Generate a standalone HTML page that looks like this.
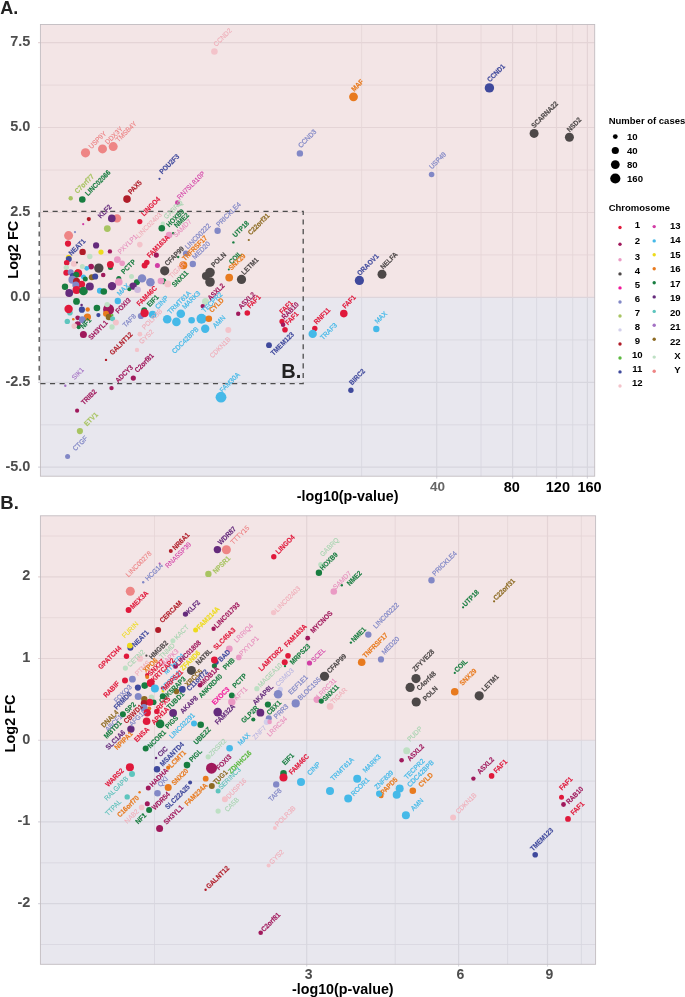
<!DOCTYPE html><html><head><meta charset="utf-8"><title>Figure</title>
<style>html,body{margin:0;padding:0;background:#fff}svg{display:block}text{font-family:"Liberation Sans",sans-serif}</style></head><body>
<svg width="685" height="997" viewBox="0 0 685 997">
<rect width="685" height="997" fill="#fff"/>
<defs><filter id="nf" x="0" y="0" width="685" height="997" filterUnits="userSpaceOnUse" color-interpolation-filters="sRGB"><feOffset dx="0" dy="0"/></filter></defs>
<g filter="url(#nf)">
<rect x="40.4" y="24.5" width="554.3000000000001" height="272.9" fill="#F3E5E6"/>
<rect x="40.4" y="297.4" width="554.3000000000001" height="178.8" fill="#E8E7EE"/>
<line x1="38.1" x2="594.7" y1="42.6" y2="42.6" stroke="#E4D4D6" stroke-width="1.2"/>
<line x1="40.4" x2="594.7" y1="85.1" y2="85.1" stroke="#E4D4D6" stroke-width="0.8"/>
<line x1="38.1" x2="594.7" y1="127.5" y2="127.5" stroke="#E4D4D6" stroke-width="1.2"/>
<line x1="40.4" x2="594.7" y1="170.0" y2="170.0" stroke="#E4D4D6" stroke-width="0.8"/>
<line x1="38.1" x2="594.7" y1="212.5" y2="212.5" stroke="#E4D4D6" stroke-width="1.2"/>
<line x1="40.4" x2="594.7" y1="254.9" y2="254.9" stroke="#E4D4D6" stroke-width="0.8"/>
<line x1="40.4" x2="594.7" y1="339.9" y2="339.9" stroke="#D7D6DE" stroke-width="0.8"/>
<line x1="38.1" x2="594.7" y1="382.3" y2="382.3" stroke="#D7D6DE" stroke-width="1.2"/>
<line x1="40.4" x2="594.7" y1="424.8" y2="424.8" stroke="#D7D6DE" stroke-width="0.8"/>
<line x1="38.1" x2="594.7" y1="467.2" y2="467.2" stroke="#D7D6DE" stroke-width="1.2"/>
<line x1="361.6" x2="361.6" y1="24.5" y2="297.4" stroke="#E4D4D6" stroke-width="0.8"/>
<line x1="361.6" x2="361.6" y1="297.4" y2="476.2" stroke="#D7D6DE" stroke-width="0.8"/>
<line x1="436.7" x2="436.7" y1="24.5" y2="297.4" stroke="#E4D4D6" stroke-width="1.2"/>
<line x1="436.7" x2="436.7" y1="297.4" y2="478.5" stroke="#D7D6DE" stroke-width="1.2"/>
<line x1="481" x2="481" y1="24.5" y2="297.4" stroke="#E4D4D6" stroke-width="0.8"/>
<line x1="481" x2="481" y1="297.4" y2="476.2" stroke="#D7D6DE" stroke-width="0.8"/>
<line x1="512.6" x2="512.6" y1="24.5" y2="297.4" stroke="#E4D4D6" stroke-width="1.2"/>
<line x1="512.6" x2="512.6" y1="297.4" y2="478.5" stroke="#D7D6DE" stroke-width="1.2"/>
<line x1="536.6" x2="536.6" y1="24.5" y2="297.4" stroke="#E4D4D6" stroke-width="0.8"/>
<line x1="536.6" x2="536.6" y1="297.4" y2="476.2" stroke="#D7D6DE" stroke-width="0.8"/>
<line x1="556.5" x2="556.5" y1="24.5" y2="297.4" stroke="#E4D4D6" stroke-width="1.2"/>
<line x1="556.5" x2="556.5" y1="297.4" y2="478.5" stroke="#D7D6DE" stroke-width="1.2"/>
<line x1="572.7" x2="572.7" y1="24.5" y2="297.4" stroke="#E4D4D6" stroke-width="0.8"/>
<line x1="572.7" x2="572.7" y1="297.4" y2="476.2" stroke="#D7D6DE" stroke-width="0.8"/>
<line x1="587.4" x2="587.4" y1="24.5" y2="297.4" stroke="#E4D4D6" stroke-width="1.2"/>
<line x1="587.4" x2="587.4" y1="297.4" y2="478.5" stroke="#D7D6DE" stroke-width="1.2"/>
<line x1="38.1" x2="594.7" y1="297.4" y2="297.4" stroke="#DDD5DB" stroke-width="1.1"/>
<rect x="40.4" y="24.5" width="554.3000000000001" height="451.7" fill="none" stroke="#C2BCC1" stroke-width="0.9"/>
<rect x="40.4" y="515.8" width="555.2" height="224.4000000000001" fill="#F3E5E6"/>
<rect x="40.4" y="740.2" width="555.2" height="224.0999999999999" fill="#E8E7EE"/>
<line x1="40.4" x2="595.6" y1="536.0" y2="536.0" stroke="#E4D4D6" stroke-width="0.8"/>
<line x1="38.1" x2="595.6" y1="576.8" y2="576.8" stroke="#E4D4D6" stroke-width="1.2"/>
<line x1="40.4" x2="595.6" y1="617.7" y2="617.7" stroke="#E4D4D6" stroke-width="0.8"/>
<line x1="38.1" x2="595.6" y1="658.5" y2="658.5" stroke="#E4D4D6" stroke-width="1.2"/>
<line x1="40.4" x2="595.6" y1="699.4" y2="699.4" stroke="#E4D4D6" stroke-width="0.8"/>
<line x1="40.4" x2="595.6" y1="781.1" y2="781.1" stroke="#D7D6DE" stroke-width="0.8"/>
<line x1="38.1" x2="595.6" y1="821.9" y2="821.9" stroke="#D7D6DE" stroke-width="1.2"/>
<line x1="40.4" x2="595.6" y1="862.8" y2="862.8" stroke="#D7D6DE" stroke-width="0.8"/>
<line x1="38.1" x2="595.6" y1="903.6" y2="903.6" stroke="#D7D6DE" stroke-width="1.2"/>
<line x1="40.4" x2="595.6" y1="944.5" y2="944.5" stroke="#D7D6DE" stroke-width="0.8"/>
<line x1="154.5" x2="154.5" y1="515.8" y2="740.2" stroke="#E4D4D6" stroke-width="0.8"/>
<line x1="154.5" x2="154.5" y1="740.2" y2="964.3" stroke="#D7D6DE" stroke-width="0.8"/>
<line x1="306.7" x2="306.7" y1="515.8" y2="740.2" stroke="#E4D4D6" stroke-width="1.2"/>
<line x1="306.7" x2="306.7" y1="740.2" y2="966.5999999999999" stroke="#D7D6DE" stroke-width="1.2"/>
<line x1="395.2" x2="395.2" y1="515.8" y2="740.2" stroke="#E4D4D6" stroke-width="0.8"/>
<line x1="395.2" x2="395.2" y1="740.2" y2="964.3" stroke="#D7D6DE" stroke-width="0.8"/>
<line x1="458.6" x2="458.6" y1="515.8" y2="740.2" stroke="#E4D4D6" stroke-width="1.2"/>
<line x1="458.6" x2="458.6" y1="740.2" y2="966.5999999999999" stroke="#D7D6DE" stroke-width="1.2"/>
<line x1="507.6" x2="507.6" y1="515.8" y2="740.2" stroke="#E4D4D6" stroke-width="0.8"/>
<line x1="507.6" x2="507.6" y1="740.2" y2="964.3" stroke="#D7D6DE" stroke-width="0.8"/>
<line x1="547.5" x2="547.5" y1="515.8" y2="740.2" stroke="#E4D4D6" stroke-width="1.2"/>
<line x1="547.5" x2="547.5" y1="740.2" y2="966.5999999999999" stroke="#D7D6DE" stroke-width="1.2"/>
<line x1="581.4" x2="581.4" y1="515.8" y2="740.2" stroke="#E4D4D6" stroke-width="0.8"/>
<line x1="581.4" x2="581.4" y1="740.2" y2="964.3" stroke="#D7D6DE" stroke-width="0.8"/>
<line x1="38.1" x2="595.6" y1="740.2" y2="740.2" stroke="#DDD5DB" stroke-width="1.1"/>
<rect x="40.4" y="515.8" width="555.2" height="448.5" fill="none" stroke="#C2BCC1" stroke-width="0.9"/>
<path d="M39.2 211.3 H303.2 V383.6 H39.2 Z" fill="none" stroke="#4d4d4d" stroke-width="1.3" stroke-dasharray="5.1 4.486" stroke-dashoffset="5.786"/>
<circle cx="70.7" cy="198.2" r="2.2" fill="#A8C462"/>
<circle cx="82.3" cy="199.5" r="3.3" fill="#187D40"/>
<circle cx="127" cy="199.1" r="3.8" fill="#B01C28"/>
<circle cx="88.8" cy="219.1" r="2.1" fill="#B01C28"/>
<circle cx="83.2" cy="224.2" r="1.1" fill="#D23DA5"/>
<circle cx="75" cy="232.1" r="1.1" fill="#8288C6"/>
<circle cx="68.6" cy="235.6" r="4.5" fill="#EE8585"/>
<circle cx="68" cy="243.6" r="3.1" fill="#E0193B"/>
<circle cx="117" cy="218.4" r="4.2" fill="#EE8585"/>
<circle cx="111.8" cy="218.4" r="3.8" fill="#652B7C"/>
<circle cx="107.3" cy="228.6" r="3.4" fill="#A8C462"/>
<circle cx="139.8" cy="221.6" r="2.6" fill="#E0193B"/>
<circle cx="96.1" cy="245.4" r="3.1" fill="#652B7C"/>
<circle cx="82.6" cy="251.9" r="3.2" fill="#B01C28"/>
<circle cx="101" cy="252.1" r="2.6" fill="#EDDB1C"/>
<circle cx="109.9" cy="251.4" r="2.2" fill="#A0195C"/>
<circle cx="89.8" cy="256.5" r="2.7" fill="#BEE0C4"/>
<circle cx="139.8" cy="244.6" r="2.8" fill="#F3C3CA"/>
<circle cx="68.6" cy="257.5" r="2.8" fill="#EDDB1C"/>
<circle cx="68.8" cy="258.9" r="3" fill="#3F499C"/>
<circle cx="117.4" cy="259.6" r="3.4" fill="#EA9AC4"/>
<circle cx="122.2" cy="263.2" r="2.8" fill="#EA9AC4"/>
<circle cx="66.7" cy="262.8" r="2.8" fill="#E0193B"/>
<circle cx="73.9" cy="263.7" r="3" fill="#F3C3CA"/>
<circle cx="77" cy="262.6" r="1" fill="#4D4848"/>
<circle cx="110.4" cy="267.4" r="2.5" fill="#187D40"/>
<circle cx="110.4" cy="264.5" r="3.5" fill="#E0193B"/>
<circle cx="98.8" cy="268.1" r="4.7" fill="#4D4848"/>
<circle cx="91.1" cy="266.6" r="2.9" fill="#A0195C"/>
<circle cx="86.7" cy="268.3" r="2.4" fill="#45B9E8"/>
<circle cx="82.3" cy="266.4" r="2.5" fill="#BEE0C4"/>
<circle cx="66.3" cy="267.6" r="2.7" fill="#BEE0C4"/>
<circle cx="66.3" cy="272.8" r="3" fill="#E0193B"/>
<circle cx="70.7" cy="272.2" r="3" fill="#8288C6"/>
<circle cx="77.7" cy="271" r="2" fill="#E87A1E"/>
<circle cx="78.2" cy="273.2" r="4" fill="#E0193B"/>
<circle cx="72.8" cy="275.9" r="3" fill="#3F499C"/>
<circle cx="76.2" cy="274.7" r="3" fill="#187D40"/>
<circle cx="72.4" cy="279.8" r="4" fill="#8288C6"/>
<circle cx="83.5" cy="276.9" r="2.5" fill="#45B9E8"/>
<circle cx="85.3" cy="279.1" r="2.5" fill="#187D40"/>
<circle cx="76.5" cy="281.3" r="3.5" fill="#B01C28"/>
<circle cx="81.6" cy="284.2" r="3.5" fill="#E0193B"/>
<circle cx="75.8" cy="284.9" r="3.5" fill="#8288C6"/>
<circle cx="76.5" cy="290" r="4" fill="#E0193B"/>
<circle cx="83.5" cy="291" r="4.3" fill="#187D40"/>
<circle cx="91.8" cy="277.3" r="3" fill="#8C6A22"/>
<circle cx="95.2" cy="276.6" r="3" fill="#3F499C"/>
<circle cx="103.2" cy="275" r="2.3" fill="#A0195C"/>
<circle cx="131.5" cy="276.5" r="2.5" fill="#BEE0C4"/>
<circle cx="118.8" cy="278.4" r="2.5" fill="#187D40"/>
<circle cx="118.8" cy="282" r="3.8" fill="#EA9AC4"/>
<circle cx="112" cy="286.1" r="4.2" fill="#652B7C"/>
<circle cx="89.8" cy="286.4" r="4" fill="#652B7C"/>
<circle cx="65" cy="286.8" r="3.2" fill="#187D40"/>
<circle cx="69.2" cy="293" r="3.9" fill="#652B7C"/>
<circle cx="99.9" cy="290.8" r="3" fill="#45B9E8"/>
<circle cx="103.8" cy="291.5" r="3.3" fill="#187D40"/>
<circle cx="136.9" cy="282.3" r="3" fill="#187D40"/>
<circle cx="133.1" cy="286.1" r="3.7" fill="#652B7C"/>
<circle cx="129.3" cy="289.3" r="2" fill="#187D40"/>
<circle cx="137.6" cy="289.7" r="3.3" fill="#CDB9DD"/>
<circle cx="142" cy="278.4" r="4.2" fill="#8288C6"/>
<circle cx="150.4" cy="282.3" r="4.3" fill="#8288C6"/>
<circle cx="76.5" cy="301.4" r="3.4" fill="#187D40"/>
<circle cx="81.6" cy="305.1" r="1.3" fill="#652B7C"/>
<circle cx="69.9" cy="312.7" r="2.8" fill="#5EC5BE"/>
<circle cx="68.6" cy="309" r="4.2" fill="#E0193B"/>
<circle cx="81.9" cy="309.7" r="3.1" fill="#3F499C"/>
<circle cx="87.7" cy="309.5" r="2.2" fill="#E87A1E"/>
<circle cx="96.9" cy="308" r="3.3" fill="#187D40"/>
<circle cx="98.4" cy="315.1" r="2.1" fill="#3F499C"/>
<circle cx="108.6" cy="309.5" r="5.5" fill="#A0195C"/>
<circle cx="107.2" cy="304.6" r="2.7" fill="#BEE0C4"/>
<circle cx="117.8" cy="301" r="3.2" fill="#45B9E8"/>
<circle cx="106" cy="313.7" r="3" fill="#E87A1E"/>
<circle cx="108.9" cy="317" r="3.2" fill="#8C6A22"/>
<circle cx="112.6" cy="318.8" r="2.5" fill="#5EC5BE"/>
<circle cx="112.3" cy="315.1" r="1.2" fill="#5CB940"/>
<circle cx="115.9" cy="322.4" r="3" fill="#F3C3CA"/>
<circle cx="112" cy="327" r="2.7" fill="#BEE0C4"/>
<circle cx="87.4" cy="317" r="3.6" fill="#E87A1E"/>
<circle cx="77.7" cy="317.8" r="2.4" fill="#A0195C"/>
<circle cx="73.3" cy="319.2" r="1.3" fill="#E87A1E"/>
<circle cx="82.3" cy="319.7" r="3.4" fill="#8288C6"/>
<circle cx="67.3" cy="321.4" r="2.7" fill="#5EC5BE"/>
<circle cx="77.7" cy="324.3" r="3" fill="#A0195C"/>
<circle cx="74.3" cy="326.1" r="2.8" fill="#F3C3CA"/>
<circle cx="78.7" cy="327.3" r="2" fill="#187D40"/>
<circle cx="140.9" cy="316" r="3.1" fill="#8288C6"/>
<circle cx="178.8" cy="204" r="2.2" fill="#BEE0C4"/>
<circle cx="177.4" cy="202.7" r="2.4" fill="#D23DA5"/>
<circle cx="162.8" cy="223.9" r="2.3" fill="#BEE0C4"/>
<circle cx="161.8" cy="228.3" r="3.3" fill="#187D40"/>
<circle cx="173.1" cy="233.2" r="1.2" fill="#187D40"/>
<circle cx="169.1" cy="235.1" r="3.3" fill="#EA9AC4"/>
<circle cx="217.6" cy="230.8" r="3.2" fill="#8288C6"/>
<circle cx="156.3" cy="255.1" r="2.6" fill="#A0195C"/>
<circle cx="146.8" cy="262.5" r="2.8" fill="#E0193B"/>
<circle cx="144.6" cy="265.5" r="3" fill="#E0193B"/>
<circle cx="157.4" cy="265.5" r="2.5" fill="#D23DA5"/>
<circle cx="164.7" cy="270.8" r="4.6" fill="#4D4848"/>
<circle cx="178.2" cy="257" r="1.2" fill="#187D40"/>
<circle cx="185.9" cy="253.4" r="3" fill="#8288C6"/>
<circle cx="183.3" cy="265.2" r="4" fill="#E87A1E"/>
<circle cx="192.8" cy="264" r="3.2" fill="#8288C6"/>
<circle cx="210" cy="272.5" r="4.8" fill="#4D4848"/>
<circle cx="205.9" cy="275.9" r="4" fill="#4D4848"/>
<circle cx="210" cy="282" r="4.8" fill="#4D4848"/>
<circle cx="233.4" cy="242.4" r="1.2" fill="#187D40"/>
<circle cx="248.8" cy="240" r="1.1" fill="#8C6A22"/>
<circle cx="229.2" cy="277.6" r="3.9" fill="#E87A1E"/>
<circle cx="228.8" cy="269.6" r="1" fill="#187D40"/>
<circle cx="241.5" cy="279.4" r="4.6" fill="#4D4848"/>
<circle cx="163.3" cy="281.3" r="3" fill="#187D40"/>
<circle cx="160.9" cy="281" r="3.3" fill="#EA9AC4"/>
<circle cx="167.7" cy="283.9" r="3.4" fill="#F3C3CA"/>
<circle cx="205.5" cy="301.4" r="3.5" fill="#BEE0C4"/>
<circle cx="202.7" cy="306.1" r="2.2" fill="#A0195C"/>
<circle cx="144.2" cy="310.2" r="3" fill="#187D40"/>
<circle cx="144.6" cy="313.1" r="4.2" fill="#E0193B"/>
<circle cx="152.6" cy="314.6" r="3.8" fill="#45B9E8"/>
<circle cx="167.2" cy="319.2" r="4.3" fill="#45B9E8"/>
<circle cx="180.8" cy="313.7" r="4.3" fill="#45B9E8"/>
<circle cx="176.4" cy="321.9" r="4.3" fill="#45B9E8"/>
<circle cx="191.6" cy="320.3" r="3.3" fill="#45B9E8"/>
<circle cx="201.5" cy="318.8" r="5" fill="#45B9E8"/>
<circle cx="208.8" cy="318.8" r="3.3" fill="#E87A1E"/>
<circle cx="205.2" cy="328.7" r="4.2" fill="#45B9E8"/>
<circle cx="228.3" cy="329.9" r="3" fill="#F3C3CA"/>
<circle cx="238.2" cy="313.8" r="2.2" fill="#A0195C"/>
<circle cx="247.3" cy="313" r="2.8" fill="#E0193B"/>
<circle cx="282" cy="321.4" r="2.6" fill="#E0193B"/>
<circle cx="283.1" cy="324.8" r="2.3" fill="#A0195C"/>
<circle cx="285" cy="329.8" r="2.8" fill="#E0193B"/>
<circle cx="83.4" cy="334.6" r="3.5" fill="#A0195C"/>
<circle cx="139.9" cy="334.2" r="2.4" fill="#F3C3CA"/>
<circle cx="137" cy="349.9" r="2.2" fill="#F3C3CA"/>
<circle cx="106" cy="359.9" r="1.2" fill="#B01C28"/>
<circle cx="65.3" cy="385.7" r="1.2" fill="#A472C4"/>
<circle cx="111.5" cy="388.1" r="2.2" fill="#A0195C"/>
<circle cx="133.3" cy="378.1" r="2.6" fill="#A0195C"/>
<circle cx="77.1" cy="410.7" r="2.1" fill="#A0195C"/>
<circle cx="79.9" cy="431.1" r="3.1" fill="#A8C462"/>
<circle cx="67.6" cy="456.5" r="2.5" fill="#8288C6"/>
<circle cx="221" cy="397.2" r="5.4" fill="#45B9E8"/>
<circle cx="269" cy="345.2" r="2.9" fill="#3F499C"/>
<circle cx="85.5" cy="152.8" r="4.6" fill="#EE8585"/>
<circle cx="102.5" cy="148.9" r="4.5" fill="#EE8585"/>
<circle cx="113.2" cy="146.6" r="4.5" fill="#EE8585"/>
<circle cx="214.4" cy="51.5" r="3.3" fill="#F3C3CA"/>
<circle cx="299.9" cy="153.4" r="3.2" fill="#8288C6"/>
<circle cx="159.5" cy="178.8" r="1.1" fill="#3F499C"/>
<circle cx="353.5" cy="96.8" r="4.4" fill="#E87A1E"/>
<circle cx="489.4" cy="87.9" r="4.7" fill="#3F499C"/>
<circle cx="534.1" cy="133.4" r="4.5" fill="#4D4848"/>
<circle cx="569.4" cy="137.2" r="4.5" fill="#4D4848"/>
<circle cx="431.6" cy="174.5" r="2.8" fill="#8288C6"/>
<circle cx="359.4" cy="280.4" r="4.6" fill="#3F499C"/>
<circle cx="382" cy="274.2" r="4.5" fill="#4D4848"/>
<circle cx="343.8" cy="313.6" r="3.8" fill="#E0193B"/>
<circle cx="314.8" cy="328.4" r="2.7" fill="#E0193B"/>
<circle cx="312.7" cy="333.9" r="4.2" fill="#45B9E8"/>
<circle cx="376.3" cy="329" r="3.2" fill="#45B9E8"/>
<circle cx="350.9" cy="390.3" r="2.7" fill="#3F499C"/>
<text transform="translate(91.6,149.2) rotate(-45) scale(1,1.06)" font-size="6.55" font-weight="400" fill="#EC7F80" stroke="#EC7F80" stroke-width="0.1">USP9Y</text>
<text transform="translate(107.8,144.8) rotate(-45) scale(1,1.06)" font-size="6.55" font-weight="400" fill="#EC7F80" stroke="#EC7F80" stroke-width="0.1">DDX3Y</text>
<text transform="translate(118.6,142.6) rotate(-45) scale(1,1.06)" font-size="6.55" font-weight="400" fill="#EC7F80" stroke="#EC7F80" stroke-width="0.1">TMSB4Y</text>
<text transform="translate(77.6,193.9) rotate(-45) scale(1,1.13)" font-size="6.4" font-weight="700" fill="#A8C462" stroke="#A8C462" stroke-width="0.14">C7orf77</text>
<text transform="translate(88.0,196.2) rotate(-45) scale(1,1.13)" font-size="6.4" font-weight="700" fill="#187D40" stroke="#187D40" stroke-width="0.14">LINC02066</text>
<text transform="translate(130.9,194.8) rotate(-45) scale(1,1.13)" font-size="6.4" font-weight="700" fill="#B01C28" stroke="#B01C28" stroke-width="0.14">PAX5</text>
<text transform="translate(162.3,174.5) rotate(-45) scale(1,1.13)" font-size="6.4" font-weight="700" fill="#3F499C" stroke="#3F499C" stroke-width="0.14">POU2F3</text>
<text transform="translate(179.8,199.9) rotate(-45) scale(1,1.06)" font-size="6.55" font-weight="400" fill="#D23DA5" stroke="#D23DA5" stroke-width="0.1">RN7SL810P</text>
<text transform="translate(216.3,46.9) rotate(-45) scale(1,1.06)" font-size="6.55" font-weight="400" fill="#EFADB8" stroke="#EFADB8" stroke-width="0.1">CCND2</text>
<text transform="translate(300.9,148.2) rotate(-45) scale(1,1.06)" font-size="6.55" font-weight="400" fill="#8288C6" stroke="#8288C6" stroke-width="0.22">CCND3</text>
<text transform="translate(354.3,91.9) rotate(-45) scale(1,1.13)" font-size="6.4" font-weight="700" fill="#E87A1E" stroke="#E87A1E" stroke-width="0.14">MAF</text>
<text transform="translate(490.0,82.5) rotate(-45) scale(1,1.13)" font-size="6.4" font-weight="700" fill="#3F499C" stroke="#3F499C" stroke-width="0.14">CCND1</text>
<text transform="translate(534.2,128.6) rotate(-45) scale(1,1.13)" font-size="6.4" font-weight="700" fill="#4D4848" stroke="#4D4848" stroke-width="0.14">SCARNA22</text>
<text transform="translate(569.7,132.4) rotate(-45) scale(1,1.13)" font-size="6.4" font-weight="700" fill="#4D4848" stroke="#4D4848" stroke-width="0.14">NSD2</text>
<text transform="translate(432.0,169.5) rotate(-45) scale(1,1.06)" font-size="6.55" font-weight="400" fill="#8288C6" stroke="#8288C6" stroke-width="0.22">USP49</text>
<text transform="translate(100.7,218.8) rotate(-45) scale(1,1.13)" font-size="6.4" font-weight="700" fill="#652B7C" stroke="#652B7C" stroke-width="0.14">KLF2</text>
<text transform="translate(71.5,256.1) rotate(-45) scale(1,1.13)" font-size="6.4" font-weight="700" fill="#3F499C" stroke="#3F499C" stroke-width="0.14">NEAT1</text>
<text transform="translate(120.4,254.6) rotate(-45) scale(1,1.06)" font-size="6.55" font-weight="400" fill="#E68DBC" stroke="#E68DBC" stroke-width="0.1">PXYLP1</text>
<text transform="translate(124.1,274.4) rotate(-45) scale(1,1.13)" font-size="6.4" font-weight="700" fill="#187D40" stroke="#187D40" stroke-width="0.14">PCTP</text>
<text transform="translate(119.7,296.3) rotate(-45) scale(1,1.06)" font-size="6.55" font-weight="400" fill="#45B9E8" stroke="#45B9E8" stroke-width="0.22">MAX</text>
<text transform="translate(118.2,313.9) rotate(-45) scale(1,1.13)" font-size="6.4" font-weight="700" fill="#A0195C" stroke="#A0195C" stroke-width="0.14">FOXI3</text>
<text transform="translate(125.5,327.7) rotate(-45) scale(1,1.06)" font-size="6.55" font-weight="400" fill="#8288C6" stroke="#8288C6" stroke-width="0.22">TAF8</text>
<text transform="translate(83.2,329.2) rotate(-45) scale(1,1.13)" font-size="6.4" font-weight="700" fill="#187D40" stroke="#187D40" stroke-width="0.14">NF1</text>
<text transform="translate(91.2,340.2) rotate(-45) scale(1,1.13)" font-size="6.4" font-weight="700" fill="#A0195C" stroke="#A0195C" stroke-width="0.14">SH3YL1</text>
<text transform="translate(144.0,216.6) rotate(-45) scale(1,1.13)" font-size="6.4" font-weight="700" fill="#E0193B" stroke="#E0193B" stroke-width="0.14">LINGO4</text>
<text transform="translate(138.9,238.5) rotate(-45) scale(1,1.06)" font-size="6.55" font-weight="400" fill="#EFADB8" stroke="#EFADB8" stroke-width="0.1">LINC02403</text>
<text transform="translate(166.6,219.6) rotate(-45) scale(1,1.06)" font-size="6.55" font-weight="400" fill="#A6D3AF" stroke="#A6D3AF" stroke-width="0.1">GABRQ</text>
<text transform="translate(169.3,227.6) rotate(-45) scale(1,1.13)" font-size="6.4" font-weight="700" fill="#187D40" stroke="#187D40" stroke-width="0.14">HOXB9</text>
<text transform="translate(176.9,228.3) rotate(-45) scale(1,1.13)" font-size="6.4" font-weight="700" fill="#187D40" stroke="#187D40" stroke-width="0.14">NME2</text>
<text transform="translate(176.1,237.8) rotate(-45) scale(1,1.06)" font-size="6.55" font-weight="400" fill="#E68DBC" stroke="#E68DBC" stroke-width="0.1">SAMD7</text>
<text transform="translate(149.8,258.2) rotate(-45) scale(1,1.13)" font-size="6.4" font-weight="700" fill="#E0193B" stroke="#E0193B" stroke-width="0.14">FAM163A</text>
<text transform="translate(167.4,266.3) rotate(-45) scale(1,1.13)" font-size="6.4" font-weight="700" fill="#4D4848" stroke="#4D4848" stroke-width="0.14">CFAP99</text>
<text transform="translate(187.8,249.5) rotate(-45) scale(1,1.06)" font-size="6.55" font-weight="400" fill="#8288C6" stroke="#8288C6" stroke-width="0.22">LINC00222</text>
<text transform="translate(184.9,261.2) rotate(-45) scale(1,1.13)" font-size="6.4" font-weight="700" fill="#E87A1E" stroke="#E87A1E" stroke-width="0.14">TNFRSF17</text>
<text transform="translate(195.1,259.7) rotate(-45) scale(1,1.06)" font-size="6.55" font-weight="400" fill="#8288C6" stroke="#8288C6" stroke-width="0.22">MED20</text>
<text transform="translate(214.1,267.7) rotate(-45) scale(1,1.13)" font-size="6.4" font-weight="700" fill="#4D4848" stroke="#4D4848" stroke-width="0.14">POLN</text>
<text transform="translate(218.9,227.3) rotate(-45) scale(1,1.06)" font-size="6.55" font-weight="400" fill="#8288C6" stroke="#8288C6" stroke-width="0.22">PRICKLE4</text>
<text transform="translate(235.5,237.8) rotate(-45) scale(1,1.13)" font-size="6.4" font-weight="700" fill="#187D40" stroke="#187D40" stroke-width="0.14">UTP18</text>
<text transform="translate(250.8,235.6) rotate(-45) scale(1,1.13)" font-size="6.4" font-weight="700" fill="#8C6A22" stroke="#8C6A22" stroke-width="0.14">C22orf31</text>
<text transform="translate(231.8,264.8) rotate(-45) scale(1,1.13)" font-size="6.4" font-weight="700" fill="#187D40" stroke="#187D40" stroke-width="0.14">COIL</text>
<text transform="translate(231.6,270.7) rotate(-45) scale(1,1.13)" font-size="6.4" font-weight="700" fill="#E87A1E" stroke="#E87A1E" stroke-width="0.14">SNX29</text>
<text transform="translate(244.2,275.2) rotate(-45) scale(1,1.13)" font-size="6.4" font-weight="700" fill="#4D4848" stroke="#4D4848" stroke-width="0.14">LETM1</text>
<text transform="translate(139.6,306.6) rotate(-45) scale(1,1.13)" font-size="6.4" font-weight="700" fill="#E0193B" stroke="#E0193B" stroke-width="0.14">FAM46C</text>
<text transform="translate(149.8,307.3) rotate(-45) scale(1,1.13)" font-size="6.4" font-weight="700" fill="#187D40" stroke="#187D40" stroke-width="0.14">EIF1</text>
<text transform="translate(157.9,309.5) rotate(-45) scale(1,1.06)" font-size="6.55" font-weight="400" fill="#45B9E8" stroke="#45B9E8" stroke-width="0.22">CINP</text>
<text transform="translate(144.7,329.9) rotate(-45) scale(1,1.06)" font-size="6.55" font-weight="400" fill="#EFADB8" stroke="#EFADB8" stroke-width="0.1">POLR3B</text>
<text transform="translate(171.7,278.8) rotate(-45) scale(1,1.06)" font-size="6.55" font-weight="400" fill="#EFADB8" stroke="#EFADB8" stroke-width="0.1">TIGAR</text>
<text transform="translate(174.7,287.6) rotate(-45) scale(1,1.13)" font-size="6.4" font-weight="700" fill="#187D40" stroke="#187D40" stroke-width="0.14">SNX11</text>
<text transform="translate(170.3,314.6) rotate(-45) scale(1,1.06)" font-size="6.55" font-weight="400" fill="#45B9E8" stroke="#45B9E8" stroke-width="0.22">TRMT61A</text>
<text transform="translate(184.9,309.5) rotate(-45) scale(1,1.06)" font-size="6.55" font-weight="400" fill="#45B9E8" stroke="#45B9E8" stroke-width="0.22">MARK3</text>
<text transform="translate(210.4,300.7) rotate(-45) scale(1,1.13)" font-size="6.4" font-weight="700" fill="#A0195C" stroke="#A0195C" stroke-width="0.14">ASXL2</text>
<text transform="translate(204.6,313.1) rotate(-45) scale(1,1.06)" font-size="6.55" font-weight="400" fill="#45B9E8" stroke="#45B9E8" stroke-width="0.22">TECPR2</text>
<text transform="translate(211.9,313.1) rotate(-45) scale(1,1.13)" font-size="6.4" font-weight="700" fill="#E87A1E" stroke="#E87A1E" stroke-width="0.14">CYLD</text>
<text transform="translate(215.5,328.5) rotate(-45) scale(1,1.06)" font-size="6.55" font-weight="400" fill="#45B9E8" stroke="#45B9E8" stroke-width="0.22">AMN</text>
<text transform="translate(241.3,309.5) rotate(-45) scale(1,1.13)" font-size="6.4" font-weight="700" fill="#A0195C" stroke="#A0195C" stroke-width="0.14">ASXL2</text>
<text transform="translate(250.1,308.8) rotate(-45) scale(1,1.13)" font-size="6.4" font-weight="700" fill="#E0193B" stroke="#E0193B" stroke-width="0.14">FAF1</text>
<text transform="translate(282.2,314.6) rotate(-45) scale(1,1.13)" font-size="6.4" font-weight="700" fill="#E0193B" stroke="#E0193B" stroke-width="0.14">FAF1</text>
<text transform="translate(284.4,319.7) rotate(-45) scale(1,1.13)" font-size="6.4" font-weight="700" fill="#A0195C" stroke="#A0195C" stroke-width="0.14">RAB10</text>
<text transform="translate(288.0,325.5) rotate(-45) scale(1,1.13)" font-size="6.4" font-weight="700" fill="#E0193B" stroke="#E0193B" stroke-width="0.14">FAF1</text>
<text transform="translate(316.8,324.7) rotate(-45) scale(1,1.13)" font-size="6.4" font-weight="700" fill="#E0193B" stroke="#E0193B" stroke-width="0.14">RNF11</text>
<text transform="translate(322.9,340.3) rotate(-45) scale(1,1.06)" font-size="6.55" font-weight="400" fill="#45B9E8" stroke="#45B9E8" stroke-width="0.22">TRAF3</text>
<text transform="translate(345.3,309.0) rotate(-45) scale(1,1.13)" font-size="6.4" font-weight="700" fill="#E0193B" stroke="#E0193B" stroke-width="0.14">FAF1</text>
<text transform="translate(360.1,275.9) rotate(-45) scale(1,1.13)" font-size="6.4" font-weight="700" fill="#3F499C" stroke="#3F499C" stroke-width="0.14">ORAOV1</text>
<text transform="translate(383.2,269.7) rotate(-45) scale(1,1.13)" font-size="6.4" font-weight="700" fill="#4D4848" stroke="#4D4848" stroke-width="0.14">NELFA</text>
<text transform="translate(377.5,324.1) rotate(-45) scale(1,1.06)" font-size="6.55" font-weight="400" fill="#45B9E8" stroke="#45B9E8" stroke-width="0.22">MAX</text>
<text transform="translate(351.9,385.4) rotate(-45) scale(1,1.13)" font-size="6.4" font-weight="700" fill="#3F499C" stroke="#3F499C" stroke-width="0.14">BIRC2</text>
<text transform="translate(112.4,355.5) rotate(-45) scale(1,1.13)" font-size="6.4" font-weight="700" fill="#B01C28" stroke="#B01C28" stroke-width="0.14">GALNT12</text>
<text transform="translate(74.4,380.3) rotate(-45) scale(1,1.06)" font-size="6.55" font-weight="400" fill="#A472C4" stroke="#A472C4" stroke-width="0.1">SIK1</text>
<text transform="translate(118.2,383.2) rotate(-45) scale(1,1.13)" font-size="6.4" font-weight="700" fill="#A0195C" stroke="#A0195C" stroke-width="0.14">ADCY3</text>
<text transform="translate(137.4,373.0) rotate(-45) scale(1,1.13)" font-size="6.4" font-weight="700" fill="#A0195C" stroke="#A0195C" stroke-width="0.14">C2orf81</text>
<text transform="translate(141.8,344.6) rotate(-45) scale(1,1.06)" font-size="6.55" font-weight="400" fill="#EFADB8" stroke="#EFADB8" stroke-width="0.1">GYS2</text>
<text transform="translate(174.7,354.0) rotate(-45) scale(1,1.06)" font-size="6.55" font-weight="400" fill="#45B9E8" stroke="#45B9E8" stroke-width="0.22">CDC42BPB</text>
<text transform="translate(212.4,358.5) rotate(-45) scale(1,1.06)" font-size="6.55" font-weight="400" fill="#EFADB8" stroke="#EFADB8" stroke-width="0.1">CDKN1B</text>
<text transform="translate(222.5,392.9) rotate(-45) scale(1,1.06)" font-size="6.55" font-weight="400" fill="#45B9E8" stroke="#45B9E8" stroke-width="0.22">FAM30A</text>
<text transform="translate(273.6,355.9) rotate(-45) scale(1,1.13)" font-size="6.4" font-weight="700" fill="#3F499C" stroke="#3F499C" stroke-width="0.14">TMEM123</text>
<text transform="translate(83.9,405.3) rotate(-45) scale(1,1.13)" font-size="6.4" font-weight="700" fill="#A0195C" stroke="#A0195C" stroke-width="0.14">TRIB2</text>
<text transform="translate(87.1,426.5) rotate(-45) scale(1,1.13)" font-size="6.4" font-weight="700" fill="#A8C462" stroke="#A8C462" stroke-width="0.14">ETV1</text>
<text transform="translate(75.5,451.3) rotate(-45) scale(1,1.06)" font-size="6.55" font-weight="400" fill="#8288C6" stroke="#8288C6" stroke-width="0.22">CTGF</text>
<circle cx="170.8" cy="551.1" r="2" fill="#B01C28"/>
<circle cx="159.6" cy="563.5" r="1" fill="#D23DA5"/>
<circle cx="143.2" cy="582.3" r="1.2" fill="#8288C6"/>
<circle cx="130.3" cy="591.3" r="4.5" fill="#EE8585"/>
<circle cx="217.4" cy="549.6" r="3.7" fill="#652B7C"/>
<circle cx="226.4" cy="549.8" r="4.5" fill="#EE8585"/>
<circle cx="208.4" cy="573.9" r="3.2" fill="#A8C462"/>
<circle cx="273.8" cy="556.8" r="2.7" fill="#E0193B"/>
<circle cx="320.7" cy="564.5" r="2.5" fill="#BEE0C4"/>
<circle cx="318.9" cy="572.8" r="3.2" fill="#187D40"/>
<circle cx="333.8" cy="591.5" r="3.3" fill="#EA9AC4"/>
<circle cx="341.8" cy="585.3" r="1.2" fill="#187D40"/>
<circle cx="431.5" cy="580.3" r="3.2" fill="#8288C6"/>
<circle cx="463.1" cy="607.3" r="1.1" fill="#187D40"/>
<circle cx="494.1" cy="601.3" r="1.1" fill="#8C6A22"/>
<circle cx="368.3" cy="634.6" r="3.2" fill="#8288C6"/>
<circle cx="361.7" cy="662.3" r="3.8" fill="#E87A1E"/>
<circle cx="381" cy="659.4" r="3.1" fill="#8288C6"/>
<circle cx="350.9" cy="642.6" r="1.2" fill="#187D40"/>
<circle cx="416" cy="678.6" r="4.6" fill="#4D4848"/>
<circle cx="410.1" cy="687.4" r="4.6" fill="#4D4848"/>
<circle cx="416.2" cy="702" r="4.6" fill="#4D4848"/>
<circle cx="454.8" cy="672.9" r="1.1" fill="#187D40"/>
<circle cx="454.7" cy="691.8" r="3.8" fill="#E87A1E"/>
<circle cx="479.2" cy="695.8" r="4.6" fill="#4D4848"/>
<circle cx="128.6" cy="610" r="3" fill="#E0193B"/>
<circle cx="158.1" cy="629.9" r="3" fill="#B01C28"/>
<circle cx="130.4" cy="647.7" r="3" fill="#3F499C"/>
<circle cx="129.9" cy="645.6" r="2.9" fill="#EDDB1C"/>
<circle cx="126.5" cy="656.3" r="2.7" fill="#E0193B"/>
<circle cx="146.4" cy="655.7" r="1.1" fill="#4D4848"/>
<circle cx="172.9" cy="640.7" r="2.5" fill="#BEE0C4"/>
<circle cx="140" cy="658.7" r="3.1" fill="#F3C3CA"/>
<circle cx="185.5" cy="614.1" r="2.7" fill="#652B7C"/>
<circle cx="195.6" cy="630.1" r="2.5" fill="#EDDB1C"/>
<circle cx="213.6" cy="628.7" r="2.2" fill="#A0195C"/>
<circle cx="229.3" cy="648.8" r="3.4" fill="#EA9AC4"/>
<circle cx="238.8" cy="657.4" r="2.8" fill="#EA9AC4"/>
<circle cx="216.2" cy="662.3" r="2.5" fill="#3F499C"/>
<circle cx="214.4" cy="665.8" r="2.6" fill="#187D40"/>
<circle cx="214.4" cy="660" r="3.4" fill="#E0193B"/>
<circle cx="125.4" cy="668.1" r="2.6" fill="#BEE0C4"/>
<circle cx="125" cy="680.6" r="3" fill="#E0193B"/>
<circle cx="132.4" cy="679.2" r="3.4" fill="#8288C6"/>
<circle cx="137.9" cy="687.6" r="3.1" fill="#3F499C"/>
<circle cx="144.7" cy="685.6" r="3.3" fill="#187D40"/>
<circle cx="147.2" cy="675.1" r="2.2" fill="#E0193B"/>
<circle cx="147.2" cy="677" r="2" fill="#E87A1E"/>
<circle cx="150.7" cy="683" r="3.9" fill="#E0193B"/>
<circle cx="154.9" cy="688.4" r="4" fill="#45B9E8"/>
<circle cx="163" cy="690.9" r="1.5" fill="#EDDB1C"/>
<circle cx="162.2" cy="687.9" r="1.5" fill="#E0193B"/>
<circle cx="138.2" cy="696.5" r="3.5" fill="#8288C6"/>
<circle cx="151.4" cy="697.3" r="2.8" fill="#BEE0C4"/>
<circle cx="144.3" cy="699.1" r="3.2" fill="#8C6A22"/>
<circle cx="153.7" cy="702.3" r="2.8" fill="#187D40"/>
<circle cx="149.8" cy="702.3" r="3.5" fill="#E0193B"/>
<circle cx="144" cy="703.3" r="3.2" fill="#B01C28"/>
<circle cx="149.2" cy="708.5" r="2" fill="#E87A1E"/>
<circle cx="143.9" cy="707.7" r="3.6" fill="#8288C6"/>
<circle cx="147.2" cy="712.8" r="3.7" fill="#E0193B"/>
<circle cx="156.8" cy="711.4" r="2.7" fill="#E0193B"/>
<circle cx="146.6" cy="721.3" r="3.8" fill="#E0193B"/>
<circle cx="122.9" cy="714.3" r="3" fill="#187D40"/>
<circle cx="130.9" cy="729.1" r="3.7" fill="#652B7C"/>
<circle cx="160.1" cy="723.9" r="4.3" fill="#187D40"/>
<circle cx="145.7" cy="748.4" r="3" fill="#187D40"/>
<circle cx="191.4" cy="670.4" r="4.5" fill="#4D4848"/>
<circle cx="175.4" cy="666.3" r="2.5" fill="#A0195C"/>
<circle cx="176.4" cy="691.4" r="2.8" fill="#8C6A22"/>
<circle cx="182.3" cy="689.4" r="3.4" fill="#3F499C"/>
<circle cx="200.1" cy="685.2" r="2.4" fill="#A0195C"/>
<circle cx="162.8" cy="696.2" r="3" fill="#187D40"/>
<circle cx="173.1" cy="713" r="3.9" fill="#652B7C"/>
<circle cx="194" cy="723.5" r="3" fill="#45B9E8"/>
<circle cx="200.7" cy="724.8" r="3.3" fill="#187D40"/>
<circle cx="217.7" cy="712.1" r="4.3" fill="#652B7C"/>
<circle cx="231.8" cy="695.5" r="2.9" fill="#187D40"/>
<circle cx="231.8" cy="701.9" r="3.7" fill="#EA9AC4"/>
<circle cx="288" cy="655.8" r="2.8" fill="#E0193B"/>
<circle cx="284.7" cy="662.2" r="3" fill="#E0193B"/>
<circle cx="285" cy="666.1" r="1.2" fill="#187D40"/>
<circle cx="256.9" cy="688.7" r="2.6" fill="#BEE0C4"/>
<circle cx="280.3" cy="689.4" r="2.7" fill="#D2CFEB"/>
<circle cx="278.1" cy="694.2" r="4.3" fill="#8288C6"/>
<circle cx="295.7" cy="703.4" r="4.1" fill="#8288C6"/>
<circle cx="267.9" cy="704.5" r="3.1" fill="#187D40"/>
<circle cx="260.4" cy="712.7" r="3.9" fill="#652B7C"/>
<circle cx="253.3" cy="719.5" r="2.1" fill="#187D40"/>
<circle cx="268.8" cy="718.3" r="3" fill="#8288C6"/>
<circle cx="266.7" cy="721.9" r="3" fill="#D2CFEB"/>
<circle cx="269.6" cy="721.9" r="2.3" fill="#EA9AC4"/>
<circle cx="273.6" cy="612.6" r="2.7" fill="#F3C3CA"/>
<circle cx="307.7" cy="638.2" r="2.4" fill="#A0195C"/>
<circle cx="309.5" cy="663" r="2.6" fill="#D23DA5"/>
<circle cx="324.5" cy="676.3" r="4.6" fill="#4D4848"/>
<circle cx="316.9" cy="699.6" r="3.4" fill="#EA9AC4"/>
<circle cx="321.3" cy="701.1" r="2.6" fill="#187D40"/>
<circle cx="330.1" cy="706.4" r="3.4" fill="#F3C3CA"/>
<circle cx="229.6" cy="748.2" r="3.3" fill="#45B9E8"/>
<circle cx="283.5" cy="773.4" r="3.3" fill="#187D40"/>
<circle cx="283.5" cy="777.5" r="4" fill="#E0193B"/>
<circle cx="156.1" cy="758" r="1.2" fill="#652B7C"/>
<circle cx="129.9" cy="767.3" r="4" fill="#E0193B"/>
<circle cx="132" cy="773.9" r="3" fill="#5EC5BE"/>
<circle cx="157" cy="769.2" r="3.2" fill="#3F499C"/>
<circle cx="148.3" cy="787.9" r="2.5" fill="#A0195C"/>
<circle cx="139.6" cy="792.3" r="1.2" fill="#E87A1E"/>
<circle cx="127.2" cy="796.9" r="2.7" fill="#5EC5BE"/>
<circle cx="157.5" cy="793.3" r="3.3" fill="#8288C6"/>
<circle cx="147.3" cy="803.8" r="2.5" fill="#A0195C"/>
<circle cx="141.7" cy="807.4" r="2.8" fill="#F3C3CA"/>
<circle cx="149.1" cy="810.1" r="3" fill="#187D40"/>
<circle cx="143.2" cy="814.5" r="1" fill="#187D40"/>
<circle cx="168.2" cy="767.7" r="2.1" fill="#E87A1E"/>
<circle cx="187" cy="765.1" r="3.3" fill="#187D40"/>
<circle cx="208.2" cy="756.8" r="2.6" fill="#BEE0C4"/>
<circle cx="211.5" cy="768.2" r="5.5" fill="#A0195C"/>
<circle cx="205.7" cy="778.7" r="2.9" fill="#E87A1E"/>
<circle cx="168.2" cy="787.4" r="3.5" fill="#E87A1E"/>
<circle cx="190.1" cy="782.6" r="2" fill="#3F499C"/>
<circle cx="211.8" cy="786" r="3" fill="#8C6A22"/>
<circle cx="218.8" cy="783.1" r="1.2" fill="#5CB940"/>
<circle cx="218.1" cy="791.1" r="2.5" fill="#5EC5BE"/>
<circle cx="224.9" cy="799.3" r="3" fill="#F3C3CA"/>
<circle cx="218.1" cy="811.1" r="2.6" fill="#BEE0C4"/>
<circle cx="159.6" cy="828.6" r="3.5" fill="#A0195C"/>
<circle cx="205.6" cy="889.8" r="1.2" fill="#B01C28"/>
<circle cx="276.2" cy="784.4" r="3.2" fill="#8288C6"/>
<circle cx="301" cy="781.9" r="4" fill="#45B9E8"/>
<circle cx="274.9" cy="828" r="2" fill="#F3C3CA"/>
<circle cx="268.6" cy="865.6" r="2" fill="#F3C3CA"/>
<circle cx="260.7" cy="932.8" r="2.3" fill="#A0195C"/>
<circle cx="330" cy="791.1" r="4" fill="#45B9E8"/>
<circle cx="357.2" cy="778.8" r="4" fill="#45B9E8"/>
<circle cx="348.2" cy="798.4" r="4" fill="#45B9E8"/>
<circle cx="381.1" cy="795.8" r="2.5" fill="#E87A1E"/>
<circle cx="379.1" cy="793.7" r="3.1" fill="#45B9E8"/>
<circle cx="399.7" cy="788.6" r="4" fill="#45B9E8"/>
<circle cx="396.7" cy="794.7" r="4" fill="#45B9E8"/>
<circle cx="412.8" cy="790.7" r="3.3" fill="#E87A1E"/>
<circle cx="405.9" cy="815.2" r="4" fill="#45B9E8"/>
<circle cx="406.7" cy="750.7" r="3.5" fill="#BEE0C4"/>
<circle cx="401.6" cy="760.3" r="2.3" fill="#A0195C"/>
<circle cx="473.4" cy="778.6" r="2.2" fill="#A0195C"/>
<circle cx="491.6" cy="775.9" r="2.8" fill="#E0193B"/>
<circle cx="453.1" cy="817.4" r="3" fill="#F3C3CA"/>
<circle cx="561.5" cy="797.3" r="2.5" fill="#E0193B"/>
<circle cx="563.5" cy="804.5" r="2.4" fill="#A0195C"/>
<circle cx="568" cy="818.9" r="2.9" fill="#E0193B"/>
<circle cx="535.2" cy="854.8" r="2.8" fill="#3F499C"/>
<text transform="translate(175.3,550.4) rotate(-45) scale(1,1.13)" font-size="6.4" font-weight="700" fill="#B01C28" stroke="#B01C28" stroke-width="0.14">NR6A1</text>
<text transform="translate(168.0,568.6) rotate(-45) scale(1,1.06)" font-size="6.55" font-weight="400" fill="#D23DA5" stroke="#D23DA5" stroke-width="0.1">RNA5SP39</text>
<text transform="translate(128.6,577.4) rotate(-45) scale(1,1.06)" font-size="6.55" font-weight="400" fill="#EC7F80" stroke="#EC7F80" stroke-width="0.1">LINC00278</text>
<text transform="translate(148.0,581.3) rotate(-45) scale(1,1.06)" font-size="6.55" font-weight="400" fill="#8288C6" stroke="#8288C6" stroke-width="0.22">HCG14</text>
<text transform="translate(220.8,545.3) rotate(-45) scale(1,1.13)" font-size="6.4" font-weight="700" fill="#652B7C" stroke="#652B7C" stroke-width="0.14">WDR87</text>
<text transform="translate(233.2,545.0) rotate(-45) scale(1,1.06)" font-size="6.55" font-weight="400" fill="#EC7F80" stroke="#EC7F80" stroke-width="0.1">TTTY15</text>
<text transform="translate(215.7,574.0) rotate(-45) scale(1,1.13)" font-size="6.4" font-weight="700" fill="#A8C462" stroke="#A8C462" stroke-width="0.14">NPSR1</text>
<text transform="translate(278.5,554.5) rotate(-45) scale(1,1.13)" font-size="6.4" font-weight="700" fill="#E0193B" stroke="#E0193B" stroke-width="0.14">LINGO4</text>
<text transform="translate(322.7,557.0) rotate(-45) scale(1,1.06)" font-size="6.55" font-weight="400" fill="#A6D3AF" stroke="#A6D3AF" stroke-width="0.1">GABRQ</text>
<text transform="translate(322.7,570.8) rotate(-45) scale(1,1.13)" font-size="6.4" font-weight="700" fill="#187D40" stroke="#187D40" stroke-width="0.14">HOXB9</text>
<text transform="translate(335.8,589.8) rotate(-45) scale(1,1.06)" font-size="6.55" font-weight="400" fill="#E68DBC" stroke="#E68DBC" stroke-width="0.1">SAMD7</text>
<text transform="translate(349.7,586.2) rotate(-45) scale(1,1.13)" font-size="6.4" font-weight="700" fill="#187D40" stroke="#187D40" stroke-width="0.14">NME2</text>
<text transform="translate(434.9,576.2) rotate(-45) scale(1,1.06)" font-size="6.55" font-weight="400" fill="#8288C6" stroke="#8288C6" stroke-width="0.22">PRICKLE4</text>
<text transform="translate(465.5,606.9) rotate(-45) scale(1,1.13)" font-size="6.4" font-weight="700" fill="#187D40" stroke="#187D40" stroke-width="0.14">UTP18</text>
<text transform="translate(496.2,600.8) rotate(-45) scale(1,1.13)" font-size="6.4" font-weight="700" fill="#8C6A22" stroke="#8C6A22" stroke-width="0.14">C22orf31</text>
<text transform="translate(354.0,642.5) rotate(-45) scale(1,1.13)" font-size="6.4" font-weight="700" fill="#187D40" stroke="#187D40" stroke-width="0.14">NME1</text>
<text transform="translate(375.9,628.9) rotate(-45) scale(1,1.06)" font-size="6.55" font-weight="400" fill="#8288C6" stroke="#8288C6" stroke-width="0.22">LINC00222</text>
<text transform="translate(365.4,658.6) rotate(-45) scale(1,1.13)" font-size="6.4" font-weight="700" fill="#E87A1E" stroke="#E87A1E" stroke-width="0.14">TNFRSF17</text>
<text transform="translate(384.4,654.9) rotate(-45) scale(1,1.06)" font-size="6.55" font-weight="400" fill="#8288C6" stroke="#8288C6" stroke-width="0.22">MED20</text>
<text transform="translate(415.3,671.9) rotate(-45) scale(1,1.13)" font-size="6.4" font-weight="700" fill="#4D4848" stroke="#4D4848" stroke-width="0.14">ZFYVE28</text>
<text transform="translate(419.6,691.1) rotate(-45) scale(1,1.13)" font-size="6.4" font-weight="700" fill="#4D4848" stroke="#4D4848" stroke-width="0.14">C4orf48</text>
<text transform="translate(425.8,701.6) rotate(-45) scale(1,1.13)" font-size="6.4" font-weight="700" fill="#4D4848" stroke="#4D4848" stroke-width="0.14">POLN</text>
<text transform="translate(457.3,672.7) rotate(-45) scale(1,1.13)" font-size="6.4" font-weight="700" fill="#187D40" stroke="#187D40" stroke-width="0.14">COIL</text>
<text transform="translate(462.6,685.9) rotate(-45) scale(1,1.13)" font-size="6.4" font-weight="700" fill="#E87A1E" stroke="#E87A1E" stroke-width="0.14">SNX29</text>
<text transform="translate(484.5,692.0) rotate(-45) scale(1,1.13)" font-size="6.4" font-weight="700" fill="#4D4848" stroke="#4D4848" stroke-width="0.14">LETM1</text>
<text transform="translate(133.1,609.4) rotate(-45) scale(1,1.13)" font-size="6.4" font-weight="700" fill="#E0193B" stroke="#E0193B" stroke-width="0.14">MEX3A</text>
<text transform="translate(162.6,623.3) rotate(-45) scale(1,1.13)" font-size="6.4" font-weight="700" fill="#B01C28" stroke="#B01C28" stroke-width="0.14">CERCAM</text>
<text transform="translate(124.7,638.6) rotate(-45) scale(1,1.06)" font-size="6.55" font-weight="400" fill="#EDDB1C" stroke="#EDDB1C" stroke-width="0.1">FURIN</text>
<text transform="translate(134.9,647.4) rotate(-45) scale(1,1.13)" font-size="6.4" font-weight="700" fill="#3F499C" stroke="#3F499C" stroke-width="0.14">NEAT1</text>
<text transform="translate(101.1,669.7) rotate(-45) scale(1,1.13)" font-size="6.4" font-weight="700" fill="#E0193B" stroke="#E0193B" stroke-width="0.14">GPATCH4</text>
<text transform="translate(152.1,659.8) rotate(-45) scale(1,1.13)" font-size="6.4" font-weight="700" fill="#4D4848" stroke="#4D4848" stroke-width="0.14">HMGB2</text>
<text transform="translate(130.1,667.6) rotate(-45) scale(1,1.06)" font-size="6.55" font-weight="400" fill="#A6D3AF" stroke="#A6D3AF" stroke-width="0.1">CETN2</text>
<text transform="translate(162.1,659.2) rotate(-45) scale(1,1.06)" font-size="6.55" font-weight="400" fill="#A6D3AF" stroke="#A6D3AF" stroke-width="0.1">TNMD</text>
<text transform="translate(163.4,667.3) rotate(-45) scale(1,1.06)" font-size="6.55" font-weight="400" fill="#E68DBC" stroke="#E68DBC" stroke-width="0.1">MAPK3</text>
<text transform="translate(166.5,674.7) rotate(-45) scale(1,1.06)" font-size="6.55" font-weight="400" fill="#45B9E8" stroke="#45B9E8" stroke-width="0.22">MTHFD1</text>
<text transform="translate(189.3,614.3) rotate(-45) scale(1,1.13)" font-size="6.4" font-weight="700" fill="#652B7C" stroke="#652B7C" stroke-width="0.14">KLF2</text>
<text transform="translate(199.6,629.9) rotate(-45) scale(1,1.13)" font-size="6.4" font-weight="700" fill="#EDDB1C" stroke="#EDDB1C" stroke-width="0.14">FAM214A</text>
<text transform="translate(217.1,628.4) rotate(-45) scale(1,1.13)" font-size="6.4" font-weight="700" fill="#A0195C" stroke="#A0195C" stroke-width="0.14">LINC01793</text>
<text transform="translate(176.9,640.1) rotate(-45) scale(1,1.06)" font-size="6.55" font-weight="400" fill="#A6D3AF" stroke="#A6D3AF" stroke-width="0.1">KACT</text>
<text transform="translate(216.3,650.3) rotate(-45) scale(1,1.13)" font-size="6.4" font-weight="700" fill="#E0193B" stroke="#E0193B" stroke-width="0.14">SLC45A3</text>
<text transform="translate(236.8,643.0) rotate(-45) scale(1,1.06)" font-size="6.55" font-weight="400" fill="#E68DBC" stroke="#E68DBC" stroke-width="0.1">LRRIQ4</text>
<text transform="translate(241.9,656.2) rotate(-45) scale(1,1.06)" font-size="6.55" font-weight="400" fill="#E68DBC" stroke="#E68DBC" stroke-width="0.1">PXYLP1</text>
<text transform="translate(221.0,662.2) rotate(-45) scale(1,1.13)" font-size="6.4" font-weight="700" fill="#3F499C" stroke="#3F499C" stroke-width="0.14">BAD</text>
<text transform="translate(198.4,665.6) rotate(-45) scale(1,1.13)" font-size="6.4" font-weight="700" fill="#4D4848" stroke="#4D4848" stroke-width="0.14">NAT8L</text>
<text transform="translate(178.4,666.3) rotate(-45) scale(1,1.13)" font-size="6.4" font-weight="700" fill="#A0195C" stroke="#A0195C" stroke-width="0.14">LINC01808</text>
<text transform="translate(183.1,671.0) rotate(-45) scale(1,1.13)" font-size="6.4" font-weight="700" fill="#EDDB1C" stroke="#EDDB1C" stroke-width="0.14">ZFAND6</text>
<text transform="translate(137.7,676.3) rotate(-45) scale(1,1.06)" font-size="6.55" font-weight="400" fill="#EFADB8" stroke="#EFADB8" stroke-width="0.1">PTMS</text>
<text transform="translate(146.1,673.0) rotate(-45) scale(1,1.13)" font-size="6.4" font-weight="700" fill="#E87A1E" stroke="#E87A1E" stroke-width="0.14">XPO6</text>
<text transform="translate(150.8,676.2) rotate(-45) scale(1,1.13)" font-size="6.4" font-weight="700" fill="#E0193B" stroke="#E0193B" stroke-width="0.14">SNX27</text>
<text transform="translate(153.9,682.2) rotate(-45) scale(1,1.13)" font-size="6.4" font-weight="700" fill="#E0193B" stroke="#E0193B" stroke-width="0.14">KRTCAP2</text>
<text transform="translate(106.2,697.9) rotate(-45) scale(1,1.13)" font-size="6.4" font-weight="700" fill="#E0193B" stroke="#E0193B" stroke-width="0.14">RABIF</text>
<text transform="translate(116.7,703.2) rotate(-45) scale(1,1.06)" font-size="6.55" font-weight="400" fill="#8288C6" stroke="#8288C6" stroke-width="0.22">FOXO3</text>
<text transform="translate(116.7,710.0) rotate(-45) scale(1,1.13)" font-size="6.4" font-weight="700" fill="#3F499C" stroke="#3F499C" stroke-width="0.14">FRMD8</text>
<text transform="translate(163.5,691.1) rotate(-45) scale(1,1.06)" font-size="6.55" font-weight="400" fill="#45B9E8" stroke="#45B9E8" stroke-width="0.22">ADSSL1</text>
<text transform="translate(165.5,690.8) rotate(-45) scale(1,1.13)" font-size="6.4" font-weight="700" fill="#E0193B" stroke="#E0193B" stroke-width="0.14">MRPS21</text>
<text transform="translate(161.9,703.8) rotate(-45) scale(1,1.13)" font-size="6.4" font-weight="700" fill="#187D40" stroke="#187D40" stroke-width="0.14">CDK5RAP3</text>
<text transform="translate(187.7,687.3) rotate(-45) scale(1,1.13)" font-size="6.4" font-weight="700" fill="#8C6A22" stroke="#8C6A22" stroke-width="0.14">XRCC5</text>
<text transform="translate(189.5,691.4) rotate(-45) scale(1,1.13)" font-size="6.4" font-weight="700" fill="#3F499C" stroke="#3F499C" stroke-width="0.14">C11orf72</text>
<text transform="translate(203.3,685.6) rotate(-45) scale(1,1.13)" font-size="6.4" font-weight="700" fill="#A0195C" stroke="#A0195C" stroke-width="0.14">MOB1A</text>
<text transform="translate(201.4,698.2) rotate(-45) scale(1,1.13)" font-size="6.4" font-weight="700" fill="#187D40" stroke="#187D40" stroke-width="0.14">ANKRD40</text>
<text transform="translate(127.8,713.4) rotate(-45) scale(1,1.13)" font-size="6.4" font-weight="700" fill="#187D40" stroke="#187D40" stroke-width="0.14">SP2</text>
<text transform="translate(103.9,728.0) rotate(-45) scale(1,1.13)" font-size="6.4" font-weight="700" fill="#8C6A22" stroke="#8C6A22" stroke-width="0.14">DNAL4</text>
<text transform="translate(108.0,732.1) rotate(-45) scale(1,1.06)" font-size="6.55" font-weight="400" fill="#8288C6" stroke="#8288C6" stroke-width="0.22">ABCF1</text>
<text transform="translate(106.8,739.1) rotate(-45) scale(1,1.13)" font-size="6.4" font-weight="700" fill="#187D40" stroke="#187D40" stroke-width="0.14">MBTD1</text>
<text transform="translate(126.6,723.9) rotate(-45) scale(1,1.13)" font-size="6.4" font-weight="700" fill="#B01C28" stroke="#B01C28" stroke-width="0.14">CBWD1</text>
<text transform="translate(131.9,726.8) rotate(-45) scale(1,1.06)" font-size="6.55" font-weight="400" fill="#8288C6" stroke="#8288C6" stroke-width="0.22">AFG1L</text>
<text transform="translate(108.5,750.2) rotate(-45) scale(1,1.13)" font-size="6.4" font-weight="700" fill="#652B7C" stroke="#652B7C" stroke-width="0.14">SLC1A6</text>
<text transform="translate(117.3,750.2) rotate(-45) scale(1,1.13)" font-size="6.4" font-weight="700" fill="#E87A1E" stroke="#E87A1E" stroke-width="0.14">NPIPA1</text>
<text transform="translate(137.1,742.6) rotate(-45) scale(1,1.13)" font-size="6.4" font-weight="700" fill="#E0193B" stroke="#E0193B" stroke-width="0.14">ENSA</text>
<text transform="translate(150.6,748.7) rotate(-45) scale(1,1.13)" font-size="6.4" font-weight="700" fill="#187D40" stroke="#187D40" stroke-width="0.14">NCOR1</text>
<text transform="translate(154.3,725.1) rotate(-45) scale(1,1.13)" font-size="6.4" font-weight="700" fill="#E0193B" stroke="#E0193B" stroke-width="0.14">APH1A</text>
<text transform="translate(159.1,711.1) rotate(-45) scale(1,1.13)" font-size="6.4" font-weight="700" fill="#E0193B" stroke="#E0193B" stroke-width="0.14">RFX5</text>
<text transform="translate(169.6,709.9) rotate(-45) scale(1,1.13)" font-size="6.4" font-weight="700" fill="#187D40" stroke="#187D40" stroke-width="0.14">TUBD1</text>
<text transform="translate(183.1,714.0) rotate(-45) scale(1,1.13)" font-size="6.4" font-weight="700" fill="#652B7C" stroke="#652B7C" stroke-width="0.14">AKAP8</text>
<text transform="translate(167.9,729.2) rotate(-45) scale(1,1.13)" font-size="6.4" font-weight="700" fill="#187D40" stroke="#187D40" stroke-width="0.14">PIGS</text>
<text transform="translate(172.0,739.1) rotate(-45) scale(1,1.06)" font-size="6.55" font-weight="400" fill="#45B9E8" stroke="#45B9E8" stroke-width="0.22">LINC02291</text>
<text transform="translate(196.5,744.9) rotate(-45) scale(1,1.13)" font-size="6.4" font-weight="700" fill="#187D40" stroke="#187D40" stroke-width="0.14">UBE2Z</text>
<text transform="translate(217.7,724.9) rotate(-45) scale(1,1.13)" font-size="6.4" font-weight="700" fill="#652B7C" stroke="#652B7C" stroke-width="0.14">FAM32A</text>
<text transform="translate(214.7,705.2) rotate(-45) scale(1,1.13)" font-size="6.4" font-weight="700" fill="#F0189A" stroke="#F0189A" stroke-width="0.14">EXOC3</text>
<text transform="translate(225.7,670.2) rotate(-45) scale(1,1.13)" font-size="6.4" font-weight="700" fill="#187D40" stroke="#187D40" stroke-width="0.14">PHB</text>
<text transform="translate(235.2,688.4) rotate(-45) scale(1,1.13)" font-size="6.4" font-weight="700" fill="#187D40" stroke="#187D40" stroke-width="0.14">PCTP</text>
<text transform="translate(236.6,700.8) rotate(-45) scale(1,1.06)" font-size="6.55" font-weight="400" fill="#E68DBC" stroke="#E68DBC" stroke-width="0.1">KFT1</text>
<text transform="translate(261.5,671.6) rotate(-45) scale(1,1.13)" font-size="6.4" font-weight="700" fill="#E0193B" stroke="#E0193B" stroke-width="0.14">LAMTOR2</text>
<text transform="translate(260.7,687.7) rotate(-45) scale(1,1.06)" font-size="6.55" font-weight="400" fill="#A6D3AF" stroke="#A6D3AF" stroke-width="0.1">MAGEA10</text>
<text transform="translate(278.2,687.0) rotate(-45) scale(1,1.06)" font-size="6.55" font-weight="400" fill="#BBB6E0" stroke="#BBB6E0" stroke-width="0.1">CSMD3</text>
<text transform="translate(255.6,705.2) rotate(-45) scale(1,1.13)" font-size="6.4" font-weight="700" fill="#652B7C" stroke="#652B7C" stroke-width="0.14">AKAP8L</text>
<text transform="translate(269.6,715.4) rotate(-45) scale(1,1.13)" font-size="6.4" font-weight="700" fill="#187D40" stroke="#187D40" stroke-width="0.14">CBX1</text>
<text transform="translate(243.9,723.5) rotate(-45) scale(1,1.13)" font-size="6.4" font-weight="700" fill="#187D40" stroke="#187D40" stroke-width="0.14">GLP2R</text>
<text transform="translate(276.6,719.2) rotate(-45) scale(1,1.06)" font-size="6.55" font-weight="400" fill="#8288C6" stroke="#8288C6" stroke-width="0.22">PRR3</text>
<text transform="translate(269.8,737.0) rotate(-45) scale(1,1.06)" font-size="6.55" font-weight="400" fill="#E68DBC" stroke="#E68DBC" stroke-width="0.1">LRRC34</text>
<text transform="translate(255.2,739.9) rotate(-45) scale(1,1.06)" font-size="6.55" font-weight="400" fill="#BBB6E0" stroke="#BBB6E0" stroke-width="0.1">ZNF7</text>
<text transform="translate(277.4,612.4) rotate(-45) scale(1,1.06)" font-size="6.55" font-weight="400" fill="#EFADB8" stroke="#EFADB8" stroke-width="0.1">LINC02403</text>
<text transform="translate(313.2,633.5) rotate(-45) scale(1,1.13)" font-size="6.4" font-weight="700" fill="#A0195C" stroke="#A0195C" stroke-width="0.14">MYCNOS</text>
<text transform="translate(286.9,647.4) rotate(-45) scale(1,1.13)" font-size="6.4" font-weight="700" fill="#E0193B" stroke="#E0193B" stroke-width="0.14">FAM163A</text>
<text transform="translate(292.8,664.9) rotate(-45) scale(1,1.13)" font-size="6.4" font-weight="700" fill="#187D40" stroke="#187D40" stroke-width="0.14">MRPS23</text>
<text transform="translate(313.9,662.7) rotate(-45) scale(1,1.06)" font-size="6.55" font-weight="400" fill="#D23DA5" stroke="#D23DA5" stroke-width="0.1">SCEL</text>
<text transform="translate(329.8,673.8) rotate(-45) scale(1,1.13)" font-size="6.4" font-weight="700" fill="#4D4848" stroke="#4D4848" stroke-width="0.14">CFAP99</text>
<text transform="translate(291.1,695.0) rotate(-45) scale(1,1.06)" font-size="6.55" font-weight="400" fill="#8288C6" stroke="#8288C6" stroke-width="0.22">EEF1E1</text>
<text transform="translate(300.6,700.8) rotate(-45) scale(1,1.06)" font-size="6.55" font-weight="400" fill="#8288C6" stroke="#8288C6" stroke-width="0.22">BLOC1S5</text>
<text transform="translate(319.1,698.7) rotate(-45) scale(1,1.06)" font-size="6.55" font-weight="400" fill="#E68DBC" stroke="#E68DBC" stroke-width="0.1">LRRC31</text>
<text transform="translate(325.4,701.6) rotate(-45) scale(1,1.13)" font-size="6.4" font-weight="700" fill="#187D40" stroke="#187D40" stroke-width="0.14">SNX11</text>
<text transform="translate(333.4,704.5) rotate(-45) scale(1,1.06)" font-size="6.55" font-weight="400" fill="#EFADB8" stroke="#EFADB8" stroke-width="0.1">TIGAR</text>
<text transform="translate(240.6,745.7) rotate(-45) scale(1,1.06)" font-size="6.55" font-weight="400" fill="#45B9E8" stroke="#45B9E8" stroke-width="0.22">MAX</text>
<text transform="translate(231.1,774.2) rotate(-45) scale(1,1.13)" font-size="6.4" font-weight="700" fill="#5CB940" stroke="#5CB940" stroke-width="0.14">ZDHHC16</text>
<text transform="translate(285.1,765.4) rotate(-45) scale(1,1.13)" font-size="6.4" font-weight="700" fill="#187D40" stroke="#187D40" stroke-width="0.14">EIF1</text>
<text transform="translate(291.7,774.9) rotate(-45) scale(1,1.13)" font-size="6.4" font-weight="700" fill="#E0193B" stroke="#E0193B" stroke-width="0.14">FAM46C</text>
<text transform="translate(309.9,775.7) rotate(-45) scale(1,1.06)" font-size="6.55" font-weight="400" fill="#45B9E8" stroke="#45B9E8" stroke-width="0.22">CINP</text>
<text transform="translate(108.3,787.2) rotate(-45) scale(1,1.13)" font-size="6.4" font-weight="700" fill="#E0193B" stroke="#E0193B" stroke-width="0.14">WARS2</text>
<text transform="translate(106.9,801.1) rotate(-45) scale(1,1.06)" font-size="6.55" font-weight="400" fill="#52BDB6" stroke="#52BDB6" stroke-width="0.1">RALGAPB</text>
<text transform="translate(107.9,816.3) rotate(-45) scale(1,1.06)" font-size="6.55" font-weight="400" fill="#52BDB6" stroke="#52BDB6" stroke-width="0.1">TTPAL</text>
<text transform="translate(120.1,817.7) rotate(-45) scale(1,1.13)" font-size="6.4" font-weight="700" fill="#E87A1E" stroke="#E87A1E" stroke-width="0.14">C16orf70</text>
<text transform="translate(127.3,823.9) rotate(-45) scale(1,1.06)" font-size="6.55" font-weight="400" fill="#EFADB8" stroke="#EFADB8" stroke-width="0.1">NAB2</text>
<text transform="translate(138.3,824.6) rotate(-45) scale(1,1.13)" font-size="6.4" font-weight="700" fill="#187D40" stroke="#187D40" stroke-width="0.14">NF1</text>
<text transform="translate(160.6,757.3) rotate(-45) scale(1,1.13)" font-size="6.4" font-weight="700" fill="#652B7C" stroke="#652B7C" stroke-width="0.14">CIC</text>
<text transform="translate(162.8,766.7) rotate(-45) scale(1,1.13)" font-size="6.4" font-weight="700" fill="#3F499C" stroke="#3F499C" stroke-width="0.14">MSANTD4</text>
<text transform="translate(171.5,768.2) rotate(-45) scale(1,1.13)" font-size="6.4" font-weight="700" fill="#E87A1E" stroke="#E87A1E" stroke-width="0.14">LCMT1</text>
<text transform="translate(192.0,762.4) rotate(-45) scale(1,1.13)" font-size="6.4" font-weight="700" fill="#187D40" stroke="#187D40" stroke-width="0.14">PIGL</text>
<text transform="translate(211.7,756.5) rotate(-45) scale(1,1.06)" font-size="6.55" font-weight="400" fill="#A6D3AF" stroke="#A6D3AF" stroke-width="0.1">ZRSR2</text>
<text transform="translate(219.0,770.4) rotate(-45) scale(1,1.13)" font-size="6.4" font-weight="700" fill="#A0195C" stroke="#A0195C" stroke-width="0.14">FOXI3</text>
<text transform="translate(152.5,787.2) rotate(-45) scale(1,1.13)" font-size="6.4" font-weight="700" fill="#A0195C" stroke="#A0195C" stroke-width="0.14">HADHA</text>
<text transform="translate(160.6,787.2) rotate(-45) scale(1,1.06)" font-size="6.55" font-weight="400" fill="#8288C6" stroke="#8288C6" stroke-width="0.22">QKI</text>
<text transform="translate(174.4,785.7) rotate(-45) scale(1,1.13)" font-size="6.4" font-weight="700" fill="#E87A1E" stroke="#E87A1E" stroke-width="0.14">SNX20</text>
<text transform="translate(154.7,810.5) rotate(-45) scale(1,1.13)" font-size="6.4" font-weight="700" fill="#A0195C" stroke="#A0195C" stroke-width="0.14">WDR54</text>
<text transform="translate(167.9,809.8) rotate(-45) scale(1,1.13)" font-size="6.4" font-weight="700" fill="#3F499C" stroke="#3F499C" stroke-width="0.14">SLC22A25</text>
<text transform="translate(187.6,806.2) rotate(-45) scale(1,1.13)" font-size="6.4" font-weight="700" fill="#E87A1E" stroke="#E87A1E" stroke-width="0.14">FAM234A</text>
<text transform="translate(216.1,785.0) rotate(-45) scale(1,1.13)" font-size="6.4" font-weight="700" fill="#8C6A22" stroke="#8C6A22" stroke-width="0.14">TUG1</text>
<text transform="translate(221.2,790.1) rotate(-45) scale(1,1.06)" font-size="6.55" font-weight="400" fill="#52BDB6" stroke="#52BDB6" stroke-width="0.1">SERINC3</text>
<text transform="translate(228.9,799.2) rotate(-45) scale(1,1.06)" font-size="6.55" font-weight="400" fill="#EFADB8" stroke="#EFADB8" stroke-width="0.1">DUSP16</text>
<text transform="translate(227.4,812.3) rotate(-45) scale(1,1.06)" font-size="6.55" font-weight="400" fill="#A6D3AF" stroke="#A6D3AF" stroke-width="0.1">CA5B</text>
<text transform="translate(166.6,825.1) rotate(-45) scale(1,1.13)" font-size="6.4" font-weight="700" fill="#A0195C" stroke="#A0195C" stroke-width="0.14">SH3YL1</text>
<text transform="translate(209.1,889.3) rotate(-45) scale(1,1.13)" font-size="6.4" font-weight="700" fill="#B01C28" stroke="#B01C28" stroke-width="0.14">GALNT12</text>
<text transform="translate(271.2,802.1) rotate(-45) scale(1,1.06)" font-size="6.55" font-weight="400" fill="#8288C6" stroke="#8288C6" stroke-width="0.22">TAF8</text>
<text transform="translate(277.8,826.9) rotate(-45) scale(1,1.06)" font-size="6.55" font-weight="400" fill="#EFADB8" stroke="#EFADB8" stroke-width="0.1">POLR3B</text>
<text transform="translate(272.1,864.7) rotate(-45) scale(1,1.06)" font-size="6.55" font-weight="400" fill="#EFADB8" stroke="#EFADB8" stroke-width="0.1">GYS2</text>
<text transform="translate(263.9,932.2) rotate(-45) scale(1,1.13)" font-size="6.4" font-weight="700" fill="#A0195C" stroke="#A0195C" stroke-width="0.14">C2orf81</text>
<text transform="translate(333.3,781.2) rotate(-45) scale(1,1.06)" font-size="6.55" font-weight="400" fill="#45B9E8" stroke="#45B9E8" stroke-width="0.22">TRMT61A</text>
<text transform="translate(365.5,773.1) rotate(-45) scale(1,1.06)" font-size="6.55" font-weight="400" fill="#45B9E8" stroke="#45B9E8" stroke-width="0.22">MARK3</text>
<text transform="translate(353.7,796.4) rotate(-45) scale(1,1.06)" font-size="6.55" font-weight="400" fill="#45B9E8" stroke="#45B9E8" stroke-width="0.22">RCOR1</text>
<text transform="translate(377.2,789.8) rotate(-45) scale(1,1.06)" font-size="6.55" font-weight="400" fill="#45B9E8" stroke="#45B9E8" stroke-width="0.22">ZNF839</text>
<text transform="translate(383.4,794.9) rotate(-45) scale(1,1.13)" font-size="6.4" font-weight="700" fill="#E87A1E" stroke="#E87A1E" stroke-width="0.14">PAPD5</text>
<text transform="translate(406.9,779.7) rotate(-45) scale(1,1.06)" font-size="6.55" font-weight="400" fill="#45B9E8" stroke="#45B9E8" stroke-width="0.22">TECPR2</text>
<text transform="translate(409.9,787.4) rotate(-45) scale(1,1.06)" font-size="6.55" font-weight="400" fill="#45B9E8" stroke="#45B9E8" stroke-width="0.22">CDC42BPB</text>
<text transform="translate(421.2,787.8) rotate(-45) scale(1,1.13)" font-size="6.4" font-weight="700" fill="#E87A1E" stroke="#E87A1E" stroke-width="0.14">CYLD</text>
<text transform="translate(413.6,811.3) rotate(-45) scale(1,1.06)" font-size="6.55" font-weight="400" fill="#45B9E8" stroke="#45B9E8" stroke-width="0.22">AMN</text>
<text transform="translate(409.9,742.1) rotate(-45) scale(1,1.06)" font-size="6.55" font-weight="400" fill="#A6D3AF" stroke="#A6D3AF" stroke-width="0.1">PUDP</text>
<text transform="translate(409.9,761.5) rotate(-45) scale(1,1.13)" font-size="6.4" font-weight="700" fill="#A0195C" stroke="#A0195C" stroke-width="0.14">ASXL2</text>
<text transform="translate(480.0,774.6) rotate(-45) scale(1,1.13)" font-size="6.4" font-weight="700" fill="#A0195C" stroke="#A0195C" stroke-width="0.14">ASXL2</text>
<text transform="translate(496.6,773.4) rotate(-45) scale(1,1.13)" font-size="6.4" font-weight="700" fill="#E0193B" stroke="#E0193B" stroke-width="0.14">FAF1</text>
<text transform="translate(458.4,814.3) rotate(-45) scale(1,1.06)" font-size="6.55" font-weight="400" fill="#EFADB8" stroke="#EFADB8" stroke-width="0.1">CDKN1B</text>
<text transform="translate(561.9,790.8) rotate(-45) scale(1,1.13)" font-size="6.4" font-weight="700" fill="#E0193B" stroke="#E0193B" stroke-width="0.14">FAF1</text>
<text transform="translate(568.9,804.4) rotate(-45) scale(1,1.13)" font-size="6.4" font-weight="700" fill="#A0195C" stroke="#A0195C" stroke-width="0.14">RAB10</text>
<text transform="translate(573.6,815.6) rotate(-45) scale(1,1.13)" font-size="6.4" font-weight="700" fill="#E0193B" stroke="#E0193B" stroke-width="0.14">FAF1</text>
<text transform="translate(532.9,851.6) rotate(-45) scale(1,1.13)" font-size="6.4" font-weight="700" fill="#3F499C" stroke="#3F499C" stroke-width="0.14">TMEM123</text>
<text x="0.3" y="13.9" font-size="18" font-weight="700" fill="#222">A.</text>
<text x="0.3" y="509" font-size="18.5" font-weight="700" fill="#222">B.</text>
<text x="281.3" y="377.9" font-size="20" font-weight="700" fill="#222">B.</text>
<text x="30.4" y="46.0" font-size="14.5" font-weight="700" fill="#4d4d4d" text-anchor="end">7.5</text>
<text x="30.4" y="130.9" font-size="14.5" font-weight="700" fill="#4d4d4d" text-anchor="end">5.0</text>
<text x="30.4" y="215.9" font-size="14.5" font-weight="700" fill="#4d4d4d" text-anchor="end">2.5</text>
<text x="30.4" y="300.8" font-size="14.5" font-weight="700" fill="#4d4d4d" text-anchor="end">0.0</text>
<text x="30.4" y="385.7" font-size="14.5" font-weight="700" fill="#4d4d4d" text-anchor="end">-2.5</text>
<text x="30.4" y="470.6" font-size="14.5" font-weight="700" fill="#4d4d4d" text-anchor="end">-5.0</text>
<text x="30.4" y="580.2" font-size="14.5" font-weight="700" fill="#4d4d4d" text-anchor="end">2</text>
<text x="30.4" y="661.9" font-size="14.5" font-weight="700" fill="#4d4d4d" text-anchor="end">1</text>
<text x="30.4" y="743.6" font-size="14.5" font-weight="700" fill="#4d4d4d" text-anchor="end">0</text>
<text x="30.4" y="825.3" font-size="14.5" font-weight="700" fill="#4d4d4d" text-anchor="end">-1</text>
<text x="30.4" y="907.0" font-size="14.5" font-weight="700" fill="#4d4d4d" text-anchor="end">-2</text>
<text transform="translate(18,249.7) rotate(-90)" font-size="14.5" font-weight="700" fill="#000" text-anchor="middle">Log2 FC</text>
<text transform="translate(15.2,723.4) rotate(-90)" font-size="14.5" font-weight="700" fill="#000" text-anchor="middle">Log2 FC</text>
<text x="347.6" y="501" font-size="14.3" font-weight="700" fill="#000" text-anchor="middle">-log10(p-value)</text>
<text x="342.8" y="994" font-size="14.3" font-weight="700" fill="#000" text-anchor="middle">-log10(p-value)</text>
<text x="437.5" y="491.2" font-size="13.5" font-weight="700" fill="#666" text-anchor="middle">40</text>
<text x="511.7" y="492.3" font-size="14.5" font-weight="700" fill="#000" text-anchor="middle">80</text>
<text x="557.9" y="491.7" font-size="14.5" font-weight="700" fill="#000" text-anchor="middle">120</text>
<text x="589.5" y="491.7" font-size="14.5" font-weight="700" fill="#000" text-anchor="middle">160</text>
<text x="308.6" y="978.6" font-size="14" font-weight="700" fill="#4d4d4d" text-anchor="middle">3</text>
<text x="460.4" y="978.6" font-size="14" font-weight="700" fill="#4d4d4d" text-anchor="middle">6</text>
<text x="549.4" y="978.6" font-size="14" font-weight="700" fill="#4d4d4d" text-anchor="middle">9</text>
<text x="608.7" y="124.2" font-size="9.5" font-weight="700" fill="#000">Number of cases</text>
<circle cx="615.3" cy="136.6" r="2.4" fill="#000"/>
<text x="627" y="139.6" font-size="9.6" font-weight="700" fill="#000">10</text>
<circle cx="615.3" cy="150.5" r="3.6" fill="#000"/>
<text x="627" y="153.5" font-size="9.6" font-weight="700" fill="#000">40</text>
<circle cx="615.3" cy="164.6" r="4.4" fill="#000"/>
<text x="627" y="167.6" font-size="9.6" font-weight="700" fill="#000">80</text>
<circle cx="615.3" cy="178.5" r="5.1" fill="#000"/>
<text x="627" y="181.5" font-size="9.6" font-weight="700" fill="#000">160</text>
<text x="608.7" y="211.1" font-size="9.5" font-weight="700" fill="#000">Chromosome</text>
<circle cx="620" cy="227.5" r="1.7" fill="#E0193B"/>
<text x="637.3" y="228.3" font-size="9.6" font-weight="700" fill="#000" text-anchor="middle">1</text>
<circle cx="620" cy="244.3" r="1.7" fill="#A0195C"/>
<text x="637.3" y="244.3" font-size="9.6" font-weight="700" fill="#000" text-anchor="middle">2</text>
<circle cx="620" cy="259.8" r="1.7" fill="#EA9AC4"/>
<text x="637.3" y="259.6" font-size="9.6" font-weight="700" fill="#000" text-anchor="middle">3</text>
<circle cx="620" cy="273.9" r="1.7" fill="#4D4848"/>
<text x="637.3" y="273.8" font-size="9.6" font-weight="700" fill="#000" text-anchor="middle">4</text>
<circle cx="620" cy="287.9" r="1.7" fill="#F0189A"/>
<text x="637.3" y="287.9" font-size="9.6" font-weight="700" fill="#000" text-anchor="middle">5</text>
<circle cx="620" cy="302" r="1.7" fill="#8288C6"/>
<text x="637.3" y="302" font-size="9.6" font-weight="700" fill="#000" text-anchor="middle">6</text>
<circle cx="620" cy="316" r="1.7" fill="#A8C462"/>
<text x="637.3" y="316" font-size="9.6" font-weight="700" fill="#000" text-anchor="middle">7</text>
<circle cx="620" cy="329.9" r="1.7" fill="#D2CFEB"/>
<text x="637.3" y="330" font-size="9.6" font-weight="700" fill="#000" text-anchor="middle">8</text>
<circle cx="620" cy="344" r="1.7" fill="#B01C28"/>
<text x="637.3" y="344" font-size="9.6" font-weight="700" fill="#000" text-anchor="middle">9</text>
<circle cx="620" cy="358" r="1.7" fill="#5CB940"/>
<text x="637.3" y="358" font-size="9.6" font-weight="700" fill="#000" text-anchor="middle">10</text>
<circle cx="620" cy="371.9" r="1.7" fill="#3F499C"/>
<text x="637.3" y="372" font-size="9.6" font-weight="700" fill="#000" text-anchor="middle">11</text>
<circle cx="620" cy="386" r="1.7" fill="#F3C3CA"/>
<text x="637.3" y="386" font-size="9.6" font-weight="700" fill="#000" text-anchor="middle">12</text>
<circle cx="654.2" cy="226.6" r="1.7" fill="#D23DA5"/>
<text x="680.6" y="228.8" font-size="9.6" font-weight="700" fill="#000" text-anchor="end">13</text>
<circle cx="654.2" cy="240.9" r="1.7" fill="#45B9E8"/>
<text x="680.6" y="243.3" font-size="9.6" font-weight="700" fill="#000" text-anchor="end">14</text>
<circle cx="654.2" cy="254.8" r="1.7" fill="#EDDB1C"/>
<text x="680.6" y="257.7" font-size="9.6" font-weight="700" fill="#000" text-anchor="end">15</text>
<circle cx="654.2" cy="268.8" r="1.7" fill="#E87A1E"/>
<text x="680.6" y="272.2" font-size="9.6" font-weight="700" fill="#000" text-anchor="end">16</text>
<circle cx="654.2" cy="282.8" r="1.7" fill="#187D40"/>
<text x="680.6" y="286.6" font-size="9.6" font-weight="700" fill="#000" text-anchor="end">17</text>
<circle cx="654.2" cy="296.9" r="1.7" fill="#652B7C"/>
<text x="680.6" y="301.1" font-size="9.6" font-weight="700" fill="#000" text-anchor="end">19</text>
<circle cx="654.2" cy="311.4" r="1.7" fill="#5EC5BE"/>
<text x="680.6" y="315.6" font-size="9.6" font-weight="700" fill="#000" text-anchor="end">20</text>
<circle cx="654.2" cy="325.2" r="1.7" fill="#A472C4"/>
<text x="680.6" y="330.0" font-size="9.6" font-weight="700" fill="#000" text-anchor="end">21</text>
<circle cx="654.2" cy="339.2" r="1.7" fill="#8C6A22"/>
<text x="680.6" y="344.5" font-size="9.6" font-weight="700" fill="#000" text-anchor="end">22</text>
<circle cx="654.2" cy="357.1" r="1.7" fill="#BEE0C4"/>
<text x="680.6" y="358.9" font-size="9.6" font-weight="700" fill="#000" text-anchor="end">X</text>
<circle cx="654.2" cy="371.2" r="1.7" fill="#EE8585"/>
<text x="680.6" y="373.4" font-size="9.6" font-weight="700" fill="#000" text-anchor="end">Y</text>
</g></svg></body></html>
